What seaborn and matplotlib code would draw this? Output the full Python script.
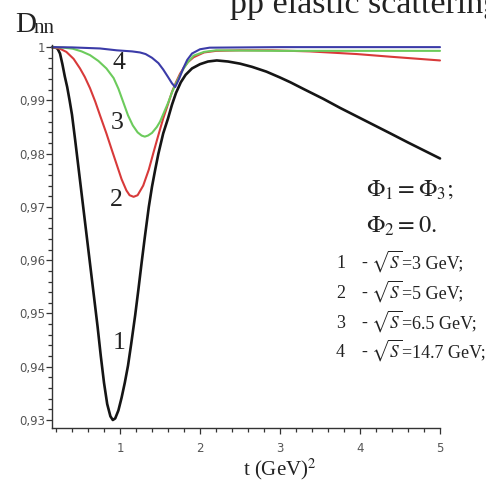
import numpy as np
import pandas as pd
import matplotlib
matplotlib.use("Agg")
import matplotlib.pyplot as plt
from matplotlib.ticker import MultipleLocator, FixedLocator, FuncFormatter
import seaborn as sns

# Spin correlation D_nn versus momentum transfer t for four energies
t1 = [0.15, 0.19, 0.22, 0.25, 0.28, 0.31, 0.34, 0.37, 0.40, 0.44, 0.48, 0.52, 0.56,
      0.60, 0.64, 0.68, 0.72, 0.76, 0.80, 0.84, 0.88, 0.91, 0.94, 0.98, 1.02, 1.06,
      1.10, 1.14, 1.19, 1.23, 1.27, 1.31, 1.36, 1.40, 1.44, 1.48, 1.54, 1.60, 1.65,
      1.70, 1.76, 1.82, 1.90, 2.00, 2.10, 2.21, 2.35, 2.50, 2.65, 2.83, 3.00, 3.13,
      3.30, 3.54, 3.75, 3.96, 4.17, 4.38, 4.60, 4.80, 5.00]
d1 = [1.0000, 0.99995, 0.9997, 0.9988, 0.9968, 0.9945, 0.9925, 0.9900, 0.9873, 0.9825,
      0.9775, 0.9725, 0.9675, 0.9625, 0.9575, 0.9525, 0.9475, 0.9420, 0.9370, 0.9330,
      0.9307, 0.9300, 0.9303, 0.9318, 0.9342, 0.9370, 0.9402, 0.9443, 0.9497, 0.9545,
      0.9595, 0.9643, 0.9700, 0.9738, 0.9770, 0.9800, 0.9838, 0.9866, 0.9892, 0.9914,
      0.9934, 0.9948, 0.9960, 0.9968, 0.9973, 0.9975, 0.9973, 0.9969, 0.9963, 0.9954,
      0.9943, 0.9934, 0.9921, 0.9903, 0.9886, 0.9870, 0.9854, 0.9838, 0.9821, 0.9806,
      0.9791]

t2 = [0.15, 0.25, 0.33, 0.42, 0.50, 0.56, 0.625, 0.69, 0.75, 0.83, 0.90, 0.96, 1.02,
      1.08, 1.12, 1.17, 1.22, 1.29, 1.36, 1.42, 1.48, 1.54, 1.60, 1.65, 1.70, 1.75,
      1.80, 1.85, 1.92, 2.05, 2.20, 2.50, 2.90, 3.37, 3.96, 4.38, 5.00]
d2 = [1.0000, 0.9997, 0.9991, 0.9978, 0.9960, 0.9944, 0.9923, 0.9898, 0.9872, 0.9838,
      0.9806, 0.9779, 0.9752, 0.9731, 0.9722, 0.9719, 0.9722, 0.9740, 0.9770, 0.9803,
      0.9835, 0.9866, 0.9893, 0.9916, 0.9934, 0.9950, 0.9962, 0.9972, 0.9981, 0.9990,
      0.9993, 0.9994, 0.9994, 0.9992, 0.9987, 0.9982, 0.9975]

t3 = [0.15, 0.30, 0.41, 0.52, 0.625, 0.73, 0.83, 0.92, 0.98, 1.04, 1.10, 1.16, 1.22,
      1.27, 1.31, 1.35, 1.40, 1.46, 1.50, 1.54, 1.60, 1.65, 1.70, 1.75, 1.80, 1.85,
      1.92, 2.05, 2.20, 3.00, 4.00, 5.00]
d3 = [1.0000, 0.9999, 0.9997, 0.9992, 0.9985, 0.9974, 0.9960, 0.9942, 0.9922, 0.9897,
      0.9872, 0.9853, 0.9840, 0.9834, 0.9832, 0.9834, 0.9839, 0.9850, 0.9860, 0.9874,
      0.9895, 0.9915, 0.9932, 0.9947, 0.9961, 0.9972, 0.9984, 0.9991, 0.9994, 0.9993,
      0.9993, 0.9993]

t4 = [0.15, 0.40, 0.75, 0.96, 1.15, 1.25, 1.32, 1.40, 1.48, 1.54, 1.60, 1.65, 1.69,
      1.74, 1.79, 1.84, 1.90, 2.00, 2.12, 3.00, 4.00, 5.00]
d4 = [1.0000, 0.99995, 0.99975, 0.9994, 0.9992, 0.9990, 0.9987, 0.9980, 0.9970, 0.9958,
      0.9944, 0.9932, 0.9925, 0.9941, 0.9960, 0.9976, 0.9988, 0.9996, 0.9999, 1.0000,
      1.0000, 1.0000]

curve_names = ["1", "2", "3", "4"]
curve_colors = ["#151515", "#d83a3a", "#6ccb5c", "#3b3ba8"]
energies = ["3", "5", "6.5", "14.7"]

y_ticks = [0.93, 0.94, 0.95, 0.96, 0.97, 0.98, 0.99, 1.00]
x_ticks = [1, 2, 3, 4, 5]

frames = []
for name, t, d in zip(curve_names, [t1, t2, t3, t4], [d1, d2, d3, d4]):
    frames.append(pd.DataFrame({"t": t, "D": d, "curve": name}))
df = pd.concat(frames, ignore_index=True)

sns.set_theme(style="white")
plt.rcParams["font.family"] = ["Liberation Serif", "DejaVu Serif"]
plt.rcParams["mathtext.fontset"] = "stix"

W, H = 486, 483
fig = plt.figure(figsize=(W / 100, H / 100), dpi=100)
fig.patch.set_facecolor("white")


def fx(x):
    return x / W


def fy(y):
    return 1 - y / H


ax = fig.add_axes([fx(52), fy(428), fx(440) - fx(52), fy(45) - fy(428)])
ax.set_facecolor("white")

sns.lineplot(data=df, x="t", y="D", hue="curve", palette=curve_colors,
             estimator=None, linewidth=1.5, legend=False, ax=ax)
for line in ax.get_lines():
    line.set_clip_on(False)
    line.set_solid_joinstyle("round")
ax.get_lines()[0].set_linewidth(1.9)

ax.set_xlim(0.15, 5.0)
ax.set_ylim(0.9285, 1.0004)
ax.set_xlabel("")
ax.set_ylabel("")

for side in ["top", "right"]:
    ax.spines[side].set_visible(False)
for side in ["left", "bottom"]:
    ax.spines[side].set_color("#333333")
    ax.spines[side].set_linewidth(1.0)

ax.xaxis.set_major_locator(FixedLocator(x_ticks))
ax.xaxis.set_minor_locator(MultipleLocator(0.2))
ax.yaxis.set_major_locator(FixedLocator(y_ticks))
ax.yaxis.set_minor_locator(MultipleLocator(0.002))


def comma_fmt(v, pos):
    if abs(v - 1.0) < 1e-9:
        return "1"
    return f"{v:.2f}".replace(".", ",")


ax.yaxis.set_major_formatter(FuncFormatter(comma_fmt))
ax.xaxis.set_major_formatter(FuncFormatter(lambda v, p: f"{int(round(v))}"))

ax.tick_params(axis="both", which="both", direction="out", color="#333333",
               bottom=True, left=True)
ax.tick_params(axis="both", which="major", length=4, width=0.9)
ax.tick_params(axis="both", which="minor", length=3, width=0.9)
ax.tick_params(axis="y", which="major", pad=1)
ax.tick_params(axis="x", which="major", pad=6)
for lab in ax.get_xticklabels() + ax.get_yticklabels():
    lab.set_fontfamily("DejaVu Sans")
    lab.set_fontsize(8.5)
    lab.set_color("#555555")

# curve numbers
label_pos = [(0.99, 0.9445), (0.96, 0.9713), (0.96, 0.9857), (0.99, 0.9970)]
for name, (tx, ty) in zip(curve_names, label_pos):
    ax.text(tx, ty, name, fontsize=18.5, ha="center", va="center", color="#222222")

# title and axis captions
fig.text(fx(230), fy(13), "pp elastic scattering", fontsize=24.5, color="#222222",
         ha="left", va="baseline")
fig.text(fx(15), fy(32), "D", fontsize=21, color="#222222", ha="left", va="baseline")
fig.text(fx(34), fy(33), "nn", fontsize=15, color="#222222", ha="left", va="baseline")
fig.text(fx(243), fy(475), r"t (GeV)$^2$", fontsize=15, color="#222222",
         ha="left", va="baseline")

# phase conditions
fig.text(fx(366), fy(196), r"$\Phi_1 = \Phi_3;$", fontsize=17.5, color="#222222",
         ha="left", va="baseline")
fig.text(fx(366), fy(233), r"$\Phi_2 = 0.$", fontsize=17.5, color="#222222",
         ha="left", va="baseline")

# energy key
key_baselines = [268, 298, 328, 357]
for name, e, yb_px in zip(curve_names, energies, key_baselines):
    yb = fy(yb_px)
    fig.text(fx(336), yb, name, fontsize=13, color="#222222", ha="left", va="baseline")
    fig.text(fx(361), yb, "-", fontsize=13, color="#222222", ha="left", va="baseline")
    fig.text(fx(371), yb, r"$\sqrt{S}$", fontsize=12.5, color="#222222",
             ha="left", va="baseline")
    fig.text(fx(401.5), yb, "=", fontsize=13, color="#222222", ha="left", va="baseline")
    fig.text(fx(411.5), yb, e + " GeV;", fontsize=13, color="#222222",
             ha="left", va="baseline")

fig.savefig("out.png", dpi=100, facecolor="white")
